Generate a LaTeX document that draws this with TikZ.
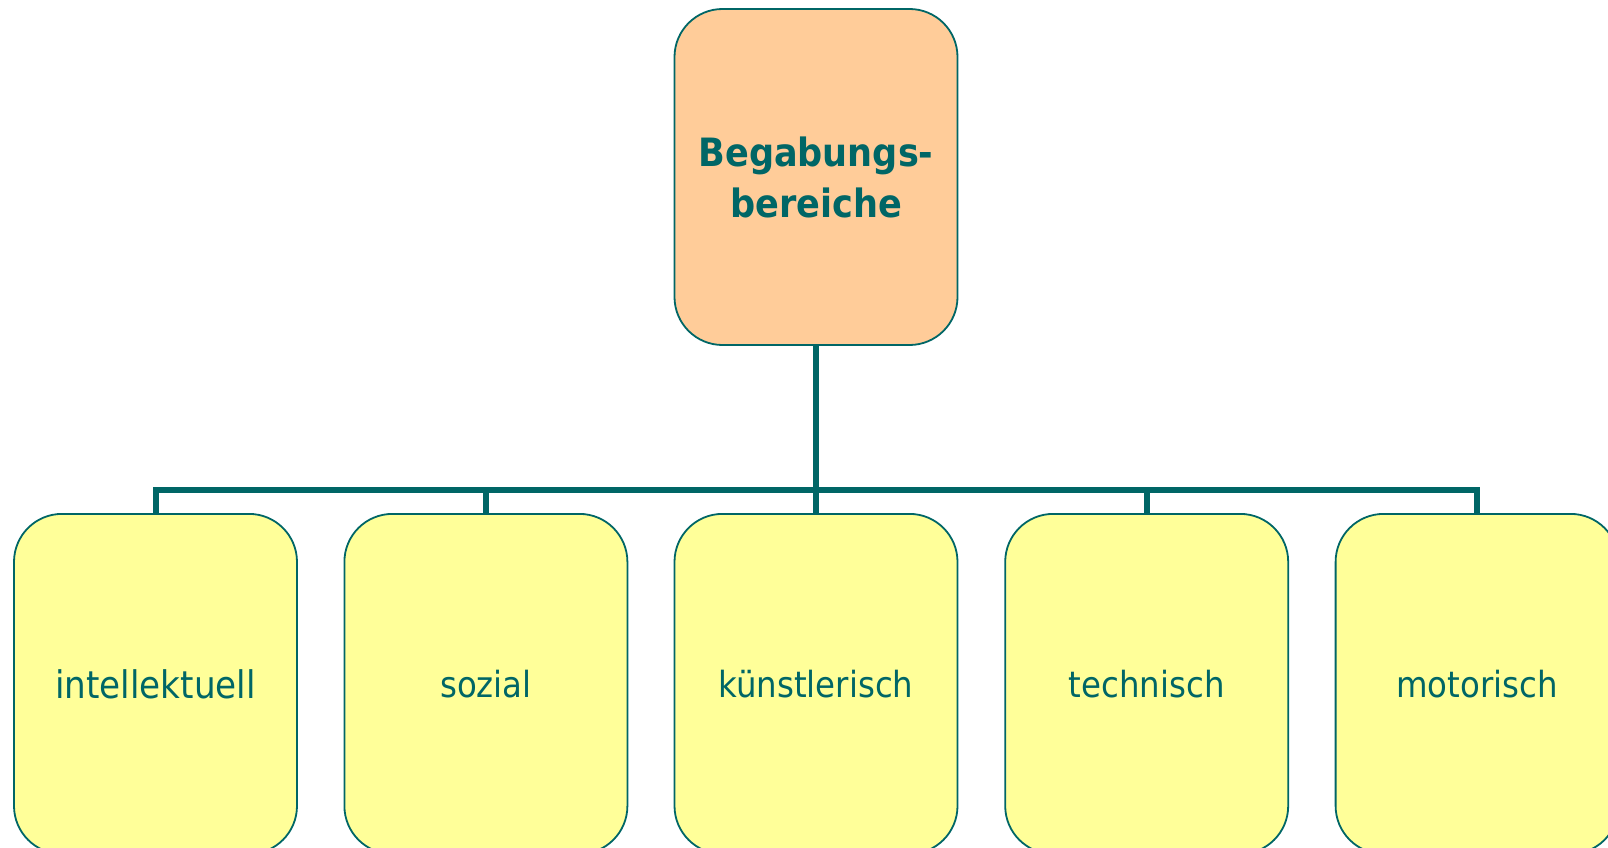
\documentclass[tikz,border=0pt]{standalone}
\usepackage{fontspec}
\setmainfont{DejaVu Sans Condensed}
\definecolor{teal1}{HTML}{006666}
\definecolor{peach}{HTML}{FFCC99}
\definecolor{pale}{HTML}{FFFF99}
\begin{document}
\begin{tikzpicture}[x=1pt,y=-1pt,
  box/.style={draw=teal1,line width=1.8pt,rounded corners=48pt,minimum width=283pt,
    text=teal1,inner sep=0pt,align=center},
  topbox/.style={box,fill=peach,minimum height=336pt,
    font=\bfseries\fontsize{39}{51}\selectfont},
  childbox/.style={box,fill=pale,minimum height=340pt,anchor=north,
    font=\fontsize{36}{44}\selectfont},
  conn/.style={draw=teal1,line width=6pt,line join=miter}]
\useasboundingbox (0,0) rectangle (1608,848);
\clip (0,0) rectangle (1608,848);
\node[topbox] (top) at (816,177) {Begabungs-\\bereiche};
\node[childbox,font=\fontsize{38}{44}\selectfont] (c1) at (155.5,513) {intellektuell};
\node[childbox] (c2) at (485.9,513) {sozial};
\node[childbox] (c3) at (816,513) {künstlerisch};
\node[childbox] (c4) at (1146.7,513) {technisch};
\node[childbox] (c5) at (1477.1,513) {motorisch};
\coordinate (j) at (816,490);
\draw[conn] (top.south) -- (top.south |- j);
\draw[conn] (c1.north) |- (j) -| (c5.north);
\draw[conn] (c2.north) -- (c2.north |- j);
\draw[conn] (c3.north) -- (c3.north |- j);
\draw[conn] (c4.north) -- (c4.north |- j);
\end{tikzpicture}
\end{document}
